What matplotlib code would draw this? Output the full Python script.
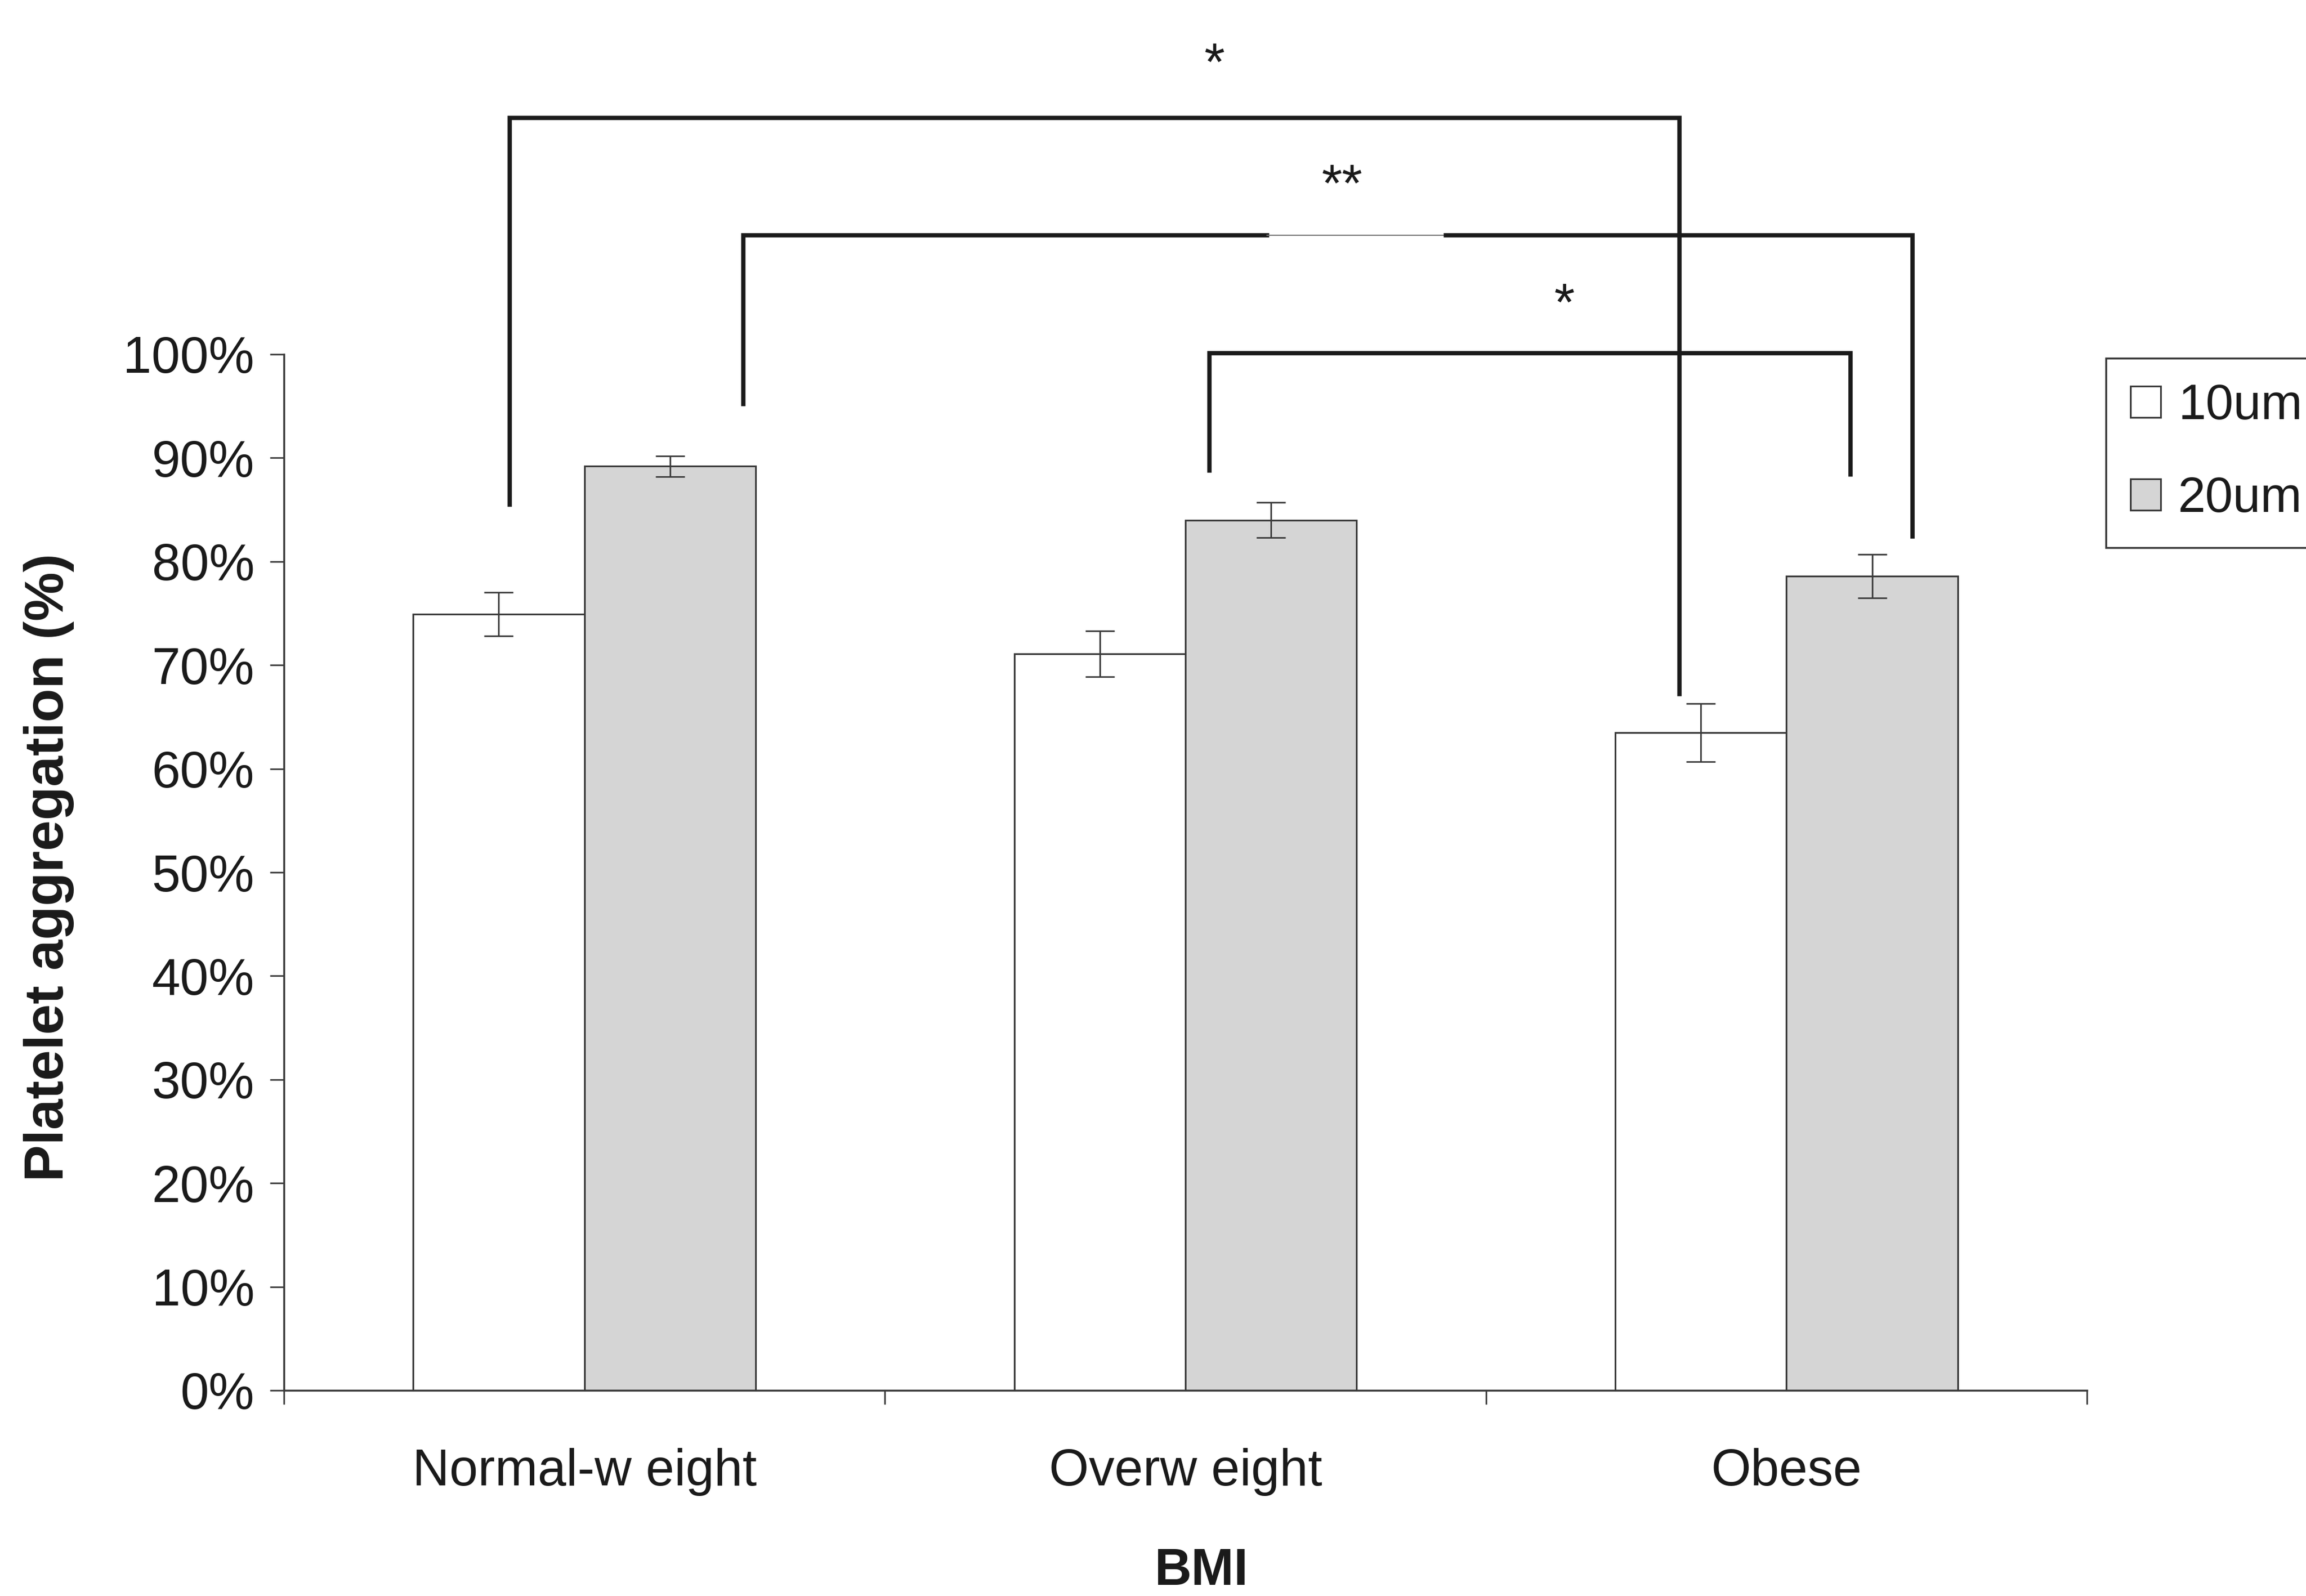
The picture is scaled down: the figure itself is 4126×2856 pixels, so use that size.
import matplotlib.pyplot as plt
import numpy as np

plt.rcParams['font.family'] = ['Liberation Sans', 'DejaVu Sans']

# platelet aggregation by BMI group, two bead sizes (fraction, mean +/- error)
categories = ['Normal-w eight', 'Overw eight', 'Obese']
agg_10um = [0.749, 0.711, 0.635]
agg_20um = [0.892, 0.840, 0.786]
err_10um = [0.021, 0.022, 0.028]
err_20um = [0.010, 0.017, 0.021]

# significance brackets: left x, right x, left end, right end, top, stars, star x, star y
brackets = [
    (0.376, 2.322, 0.855, 0.672, 1.228, '*', 1.548, 1.265),
    (0.764, 2.710, 0.952, 0.824, 1.115, '**', 1.761, 1.148),
    (1.540, 2.607, 0.888, 0.884, 1.001, '*', 2.130, 1.033),
]

W, H = 4126, 2856
fig = plt.figure(figsize=(W / 100, H / 100), dpi=100)
ax = fig.add_axes([508 / W, 1 - 2488 / H, (3734 - 508) / W, (2488 - 634) / H])

ink = '#1a1a1a'
edge = '#3a3a3a'
width = 0.285
x = np.arange(len(categories)) + 0.5

b1 = ax.bar(x - width / 2, agg_10um, width, color='white', edgecolor=edge,
            linewidth=2.2, label='10um', zorder=2)
b2 = ax.bar(x + width / 2, agg_20um, width, color='#d5d5d5', edgecolor=edge,
            linewidth=2.2, label='20um', zorder=2)
ax.errorbar(x - width / 2, agg_10um, yerr=err_10um, fmt='none', ecolor=edge,
            elinewidth=2, capsize=19, capthick=2, zorder=3)
ax.errorbar(x + width / 2, agg_20um, yerr=err_20um, fmt='none', ecolor=edge,
            elinewidth=2, capsize=19, capthick=2, zorder=3)

ax.set_xlim(0, 3)
ax.set_ylim(0, 1)
ax.set_yticks(np.arange(0, 1.01, 0.1))
ax.set_yticklabels([f'{int(round(v * 100))}%' for v in np.arange(0, 1.01, 0.1)])
ax.set_xticks([0, 1, 2, 3])
ax.set_xticklabels([])
ax.set_xticks(x, minor=True)
ax.set_xticklabels(categories, minor=True)

ax.tick_params(axis='y', which='major', length=18, width=2, color=edge,
               labelsize=66, pad=20, labelcolor=ink)
ax.tick_params(axis='x', which='major', length=18, width=2, color=edge)
ax.tick_params(axis='x', which='minor', length=0, labelsize=66, pad=74,
               labelcolor=ink)

for side in ['top', 'right']:
    ax.spines[side].set_visible(False)
for side in ['left', 'bottom']:
    ax.spines[side].set_color(edge)
    ax.spines[side].set_linewidth(2.5)

# comparison brackets drawn above the plot area
for i, (xl, xr, yl, yr, yt, stars, sx, sy) in enumerate(brackets):
    if i == 1:
        ax.plot([xl, xl, 1.636], [yl, yt, yt], color=ink, lw=5.5, clip_on=False,
                solid_joinstyle='miter', zorder=4)
        ax.plot([1.636, 1.933], [yt, yt], color='#777777', lw=1.5,
                clip_on=False, zorder=4)
        ax.plot([1.933, xr, xr], [yt, yt, yr], color=ink, lw=5.5, clip_on=False,
                solid_joinstyle='miter', zorder=4)
    else:
        ax.plot([xl, xl, xr, xr], [yl, yt, yt, yr], color=ink, lw=5.5,
                clip_on=False, solid_joinstyle='miter', zorder=4)
    ax.text(sx, sy, stars, ha='center', va='baseline', fontsize=68,
            color=ink, clip_on=False)

fig.text(88 / W, 1 - 1552 / H, 'Platelet aggregation (%)', rotation=90,
         ha='center', va='center', fontsize=71, fontweight='bold', color=ink)
fig.text(2150 / W, 1 - 2812 / H, 'BMI', ha='center', va='center',
         fontsize=66, fontweight='bold', color=ink)

leg = fig.legend(handles=[b1, b2], loc='upper left',
                 bbox_to_anchor=(3768 / W, 1 - 641 / H), borderaxespad=0,
                 fontsize=64, handlelength=0.6, handleheight=0.6,
                 handletextpad=0.35, borderpad=0.5, labelspacing=0.92,
                 fancybox=False, edgecolor=edge, framealpha=1)
leg.get_frame().set_linewidth(2.5)
for t in leg.get_texts():
    t.set_color(ink)

fig.savefig('out.png', dpi=100, facecolor='white')
